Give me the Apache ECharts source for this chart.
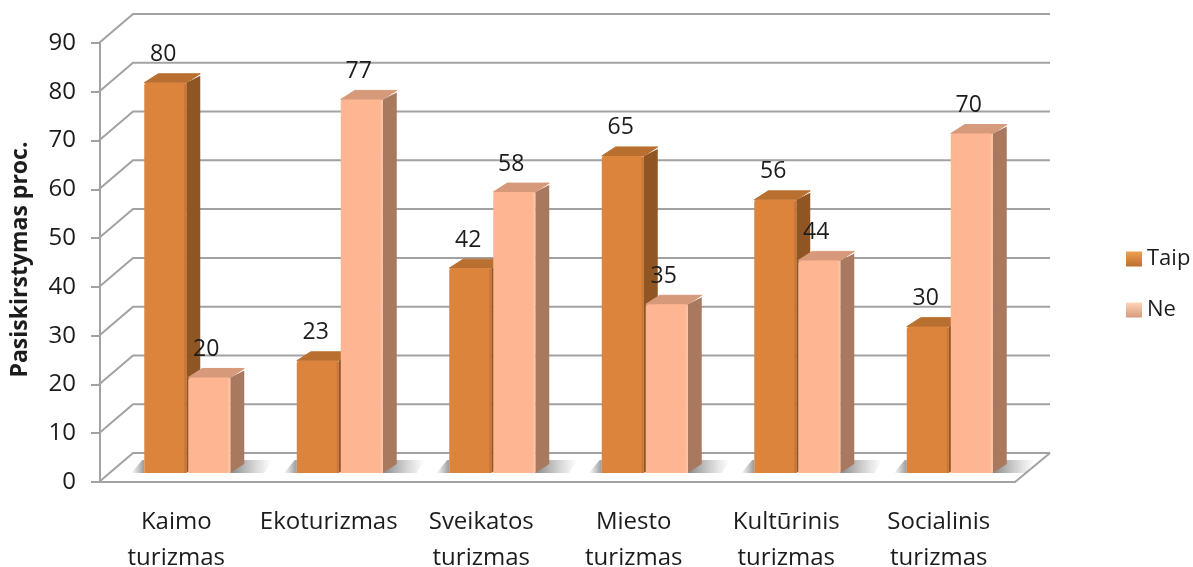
<!DOCTYPE html>
<html>
<head>
<meta charset="utf-8">
<style>html,body{margin:0;padding:0;background:#fff}#c{width:1193px;height:567px}</style>
<script src="https://cdn.jsdelivr.net/npm/echarts@6/dist/echarts.min.js"></script>
</head>
<body>
<div id="c"></div>
<script>
const categories = ['Kaimo\nturizmas','Ekoturizmas','Sveikatos\nturizmas','Miesto\nturizmas','Kultūrinis\nturizmas','Socialinis\nturizmas'];
const taip = [80,23,42,65,56,30];
const ne = [20,77,58,35,44,70];
const ticks = [0,10,20,30,40,50,60,70,80,90];

const FONT = '"Open Sans", Lato, sans-serif';
const GRID = '#a2a2a2';
const chart = echarts.init(document.getElementById('c'), null, {renderer:'canvas'});
const WALL_X = 33, WALL_Y = -29, RIGHT_X = 35;
const BAR_W = 42, BASE_Y = -9, SIDE_X = 14, SIDE_Y = -9;

function gridItem(params, api){
  const p = api.coord([0, api.value(1)]);
  const x0 = params.coordSys.x, x1 = x0 + params.coordSys.width, y = p[1];
  const children = [{
    type:'polyline', shape:{points:[[x0-1,y],[x0+WALL_X,y+WALL_Y],[x1+RIGHT_X,y+WALL_Y]]},
    style:{stroke:GRID,lineWidth:2,fill:null}
  }];
  if (api.value(1) === 0) {
    children.push({type:'polyline', shape:{points:[[x1,y],[x1+RIGHT_X,y+WALL_Y]]}, style:{stroke:GRID,lineWidth:2,fill:null}});
  }
  return {type:'group', children};
}

function shadowItem(params, api){
  const p = api.coord([api.value(0), 0]);
  const c = p[0], y = p[1] + BASE_Y;
  const g = (a,b,x0,x1)=> new echarts.graphic.LinearGradient(x0,0,x1,0,[{offset:0,color:a},{offset:1,color:b}]);
  return {type:'group', children:[
    {type:'polygon', shape:{points:[[c-45,y],[c-34,y-13],[c-32,y-13],[c-32,y]]}, style:{fill:g('rgba(120,120,120,0)','rgba(120,120,120,0.75)',0,1)}},
    {type:'polygon', shape:{points:[[c+53,y],[c+68,y-13],[c+96,y-13],[c+88,y]]}, style:{fill:g('rgba(110,110,110,0.85)','rgba(150,150,150,0)',0,1)}}
  ]};
}

function barItem(offset, front, edge, side, top, labelShift, inset){
  return function(params, api){
    const cat = api.value(0), v = api.value(1);
    const p0 = api.coord([cat, 0]), p1 = api.coord([cat, v]);
    const l = p0[0] + offset, r = l + BAR_W, b = p0[1] + BASE_Y, t = p1[1] + BASE_Y + inset;
    return {type:'group', children:[
      {type:'polygon', shape:{points:[[r,b],[r+SIDE_X,b+SIDE_Y],[r+SIDE_X,t+SIDE_Y+2],[r,t]]}, style:{fill:side}},
      {type:'polygon', shape:{points:[[l,t],[l+SIDE_X,t+SIDE_Y],[r+SIDE_X,t+SIDE_Y],[r,t]]}, style:{fill:top, stroke:top, lineWidth:1, lineJoin:'round'}},
      {type:'rect', shape:{x:l,y:t,width:BAR_W,height:b-t,r:[3,3,0,0]}, style:{fill:front}},
      {type:'rect', shape:{x:r-2,y:t+1,width:2,height:b-t-1}, style:{fill:edge}},
      {type:'text', style:{text:String(v), x:l+BAR_W/2-2+labelShift, y:t-28, align:'center', verticalAlign:'middle',
        font:'23px '+FONT, fill:'#1c1c1c'}}
    ]};
  };
}

chart.setOption({
  animation:false,
  backgroundColor:'#ffffff',
  textStyle:{fontFamily:FONT},
  grid:{left:100, right:178, top:43, height:439, containLabel:false, outerBoundsMode:'none'},
  legend:{
    orient:'vertical', left:1121, top:243, itemWidth:16, itemHeight:15, itemGap:29,
    selectedMode:false,
    textStyle:{fontSize:22, color:'#1c1c1c', fontFamily:FONT},
    data:[
      {name:'Taip', icon:'rect', itemStyle:{color:new echarts.graphic.LinearGradient(0,0,0,1,[{offset:0,color:'#f0a050'},{offset:1,color:'#b96f30'}])}},
      {name:'Ne', icon:'rect', itemStyle:{color:new echarts.graphic.LinearGradient(0,0,0,1,[{offset:0,color:'#ffd5b8'},{offset:1,color:'#d69a7b'}])}}
    ]
  },
  xAxis:{
    type:'category', data:categories,
    axisLine:{show:true, lineStyle:{color:GRID,width:2}},
    axisTick:{show:false},
    axisLabel:{interval:0, fontSize:24, lineHeight:36, color:'#1c1c1c', margin:22, fontFamily:FONT},
    splitLine:{show:false}
  },
  yAxis:{
    type:'value', min:0, max:90, interval:10,
    name:'Pasiskirstymas proc.', nameLocation:'middle', nameGap:68, nameRotate:90,
    nameTextStyle:{fontSize:23, fontWeight:'bold', color:'#1c1c1c', fontFamily:FONT, padding:[0,0,0,6]},
    axisLine:{show:true, lineStyle:{color:GRID,width:2}},
    axisTick:{show:true, length:9, lineStyle:{color:GRID,width:2}},
    axisLabel:{fontSize:24, color:'#1c1c1c', margin:24, fontFamily:FONT},
    splitLine:{show:false}
  },
  series:[
    {type:'custom', name:'grid', silent:true, z:1, renderItem:gridItem, data:ticks.map(v=>[0,v]), encode:{x:0,y:1}},
    {type:'custom', name:'shadow', silent:true, z:2, renderItem:shadowItem, data:categories.map((_,i)=>[i,0]), encode:{x:0,y:1}},
    {type:'custom', name:'Taip', z:3, itemStyle:{color:'#dd843c'},
      renderItem:barItem(-32,'#dd843c','#c8763a','#8f5624','#b96f30',0,0), data:taip.map((v,i)=>[i,v]), encode:{x:0,y:1}},
    {type:'custom', name:'Ne', z:4, itemStyle:{color:'#fdb592'},
      renderItem:barItem(12,'#fdb592','#fdc3a5','#a9795f','#d69a7b',-1,2), data:ne.map((v,i)=>[i,v]), encode:{x:0,y:1}}
  ]
});
</script>
</body>
</html>
